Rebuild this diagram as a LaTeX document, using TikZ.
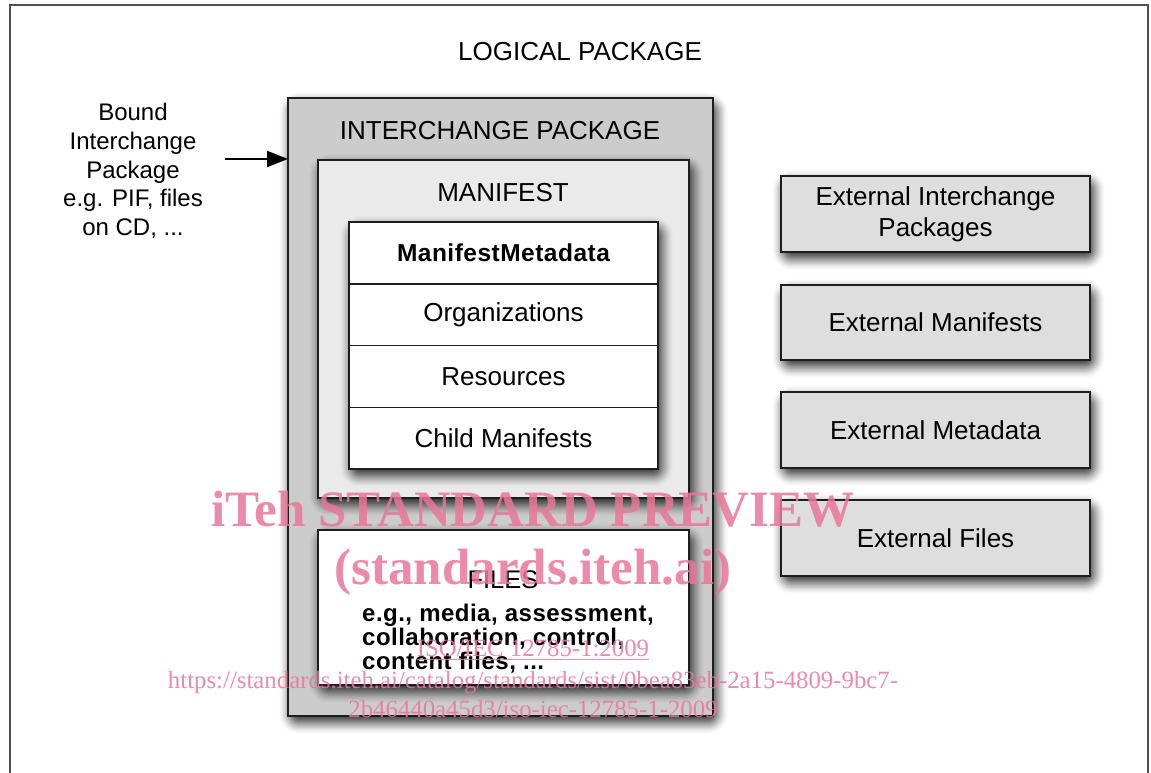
\documentclass[tikz,border=0pt]{standalone}
\usepackage{fontspec}
\setmainfont{Liberation Sans}
\newfontfamily\wmfont{Liberation Serif}
\usetikzlibrary{arrows.meta,fit}

\definecolor{frame}{RGB}{80,80,80}
\definecolor{edge}{RGB}{30,30,30}
\definecolor{pkgfill}{RGB}{204,204,204}
\definecolor{manfill}{RGB}{234,234,234}
\definecolor{extfill}{RGB}{222,222,222}
\definecolor{wmpink}{RGB}{233,118,154}

\newcommand{\fs}[2]{\fontsize{#1}{#2}\selectfont}

% soft drop shadow: stacked translucent rectangles, offset right and down,
% the outer layers fainter than the inner ones
\newcommand{\castshadow}[2]{%
  \foreach \k in {0,...,20}{%
    \pgfmathsetmacro{\layeralpha}{0.13-0.006*\k}%
    \fill[black, fill opacity=\layeralpha, rounded corners=\k pt]
      ([shift={(11-\k,2-\k)}]#1) rectangle ([shift={(\k-5,\k-14)}]#2);
  }%
}

\tikzset{
  boxbase/.style={draw=edge, line width=2pt, inner sep=0pt, outer sep=0pt},
  pkgbox/.style={boxbase, fill=pkgfill},
  manbox/.style={boxbase, fill=manfill},
  stackbox/.style={boxbase, fill=white, line width=2.4pt},
  rowbox/.style={draw=edge, line width=1.4pt, fill=white, inner sep=0pt,
      minimum width=309pt, minimum height=61.75pt, text=black,
      font=\fs{26}{30}},
  filebox/.style={boxbase, fill=white},
  extbox/.style={boxbase, fill=extfill, align=center, font=\fs{26}{31}},
  title/.style={font=\fs{26}{30}, inner sep=0pt},
  note/.style={font=\fs{24}{28.7}, align=center, inner sep=0pt},
  wmbig/.style={font=\wmfont\bfseries\fs{51}{55}, text=wmpink, opacity=0.85, inner sep=0pt, anchor=base},
  wmsmall/.style={font=\wmfont\fs{24.8}{27}, text=wmpink, opacity=0.85, inner sep=0pt, anchor=base},
  feed/.style={line width=2pt, -{Triangle[length=21pt,width=16pt]}},
}

\begin{document}
\begin{tikzpicture}[x=1pt,y=1pt]
  \useasboundingbox (0,0) rectangle (1151,773);
  \fill[white] (0,0) rectangle (1151,773);

  % corners of the boxes
  \coordinate (ipSW) at (288,57);    \coordinate (ipNE) at (713,675);
  \coordinate (manSW) at (318,275);  \coordinate (manNE) at (689,613);
  \coordinate (stSW) at (349,304);   \coordinate (stNE) at (658,551);
  \coordinate (fiSW) at (318,88);    \coordinate (fiNE) at (689,243);
  \coordinate (e1SW) at (781,521);   \coordinate (e1NE) at (1090,597);
  \coordinate (e2SW) at (781,413);   \coordinate (e2NE) at (1090,488);
  \coordinate (e3SW) at (781,305);   \coordinate (e3NE) at (1090,381);
  \coordinate (e4SW) at (781,197);   \coordinate (e4NE) at (1090,273);

  % outer frame of the logical package (open at the bottom)
  \draw[frame, line width=2pt] (10,-2) -- (10,768) -- (1148,768) -- (1148,-2);
  \node[title] (logical) at (580,721) {LOGICAL PACKAGE};

  % interchange package with its manifest and files
  \castshadow{ipSW}{ipNE}
  \node[pkgbox, fit=(ipSW)(ipNE)] (ip) {};
  \node[title] (iptitle) at (500,642) {INTERCHANGE PACKAGE};

  \castshadow{manSW}{manNE}
  \node[manbox, fit=(manSW)(manNE)] (man) {};
  \node[title] (mantitle) at (503,580) {MANIFEST};

  \castshadow{stSW}{stNE}
  \node[stackbox, fit=(stSW)(stNE)] (stack) {};
  \node[rowbox, font=\bfseries\addfontfeature{LetterSpace=2}\fs{24.5}{28}] (meta) at (503.5,519.875) {ManifestMetadata};
  \node[rowbox] (orgs) at (503.5,458.125) {Organizations};
  \node[rowbox] (res) at (503.5,396.375) {Resources};
  \node[rowbox] (child) at (503.5,334.625) {Child Manifests};
  \draw[edge, line width=2.4pt] (stack.south west) rectangle (stack.north east);

  \castshadow{fiSW}{fiNE}
  \node[filebox, fit=(fiSW)(fiNE)] (files) {};
  \node[title, font=\fs{25.5}{30}] (filestitle) at (503,193) {FILES};
  \node[font=\bfseries\addfontfeature{LetterSpace=2}\fs{24}{24}, align=left, anchor=north west, inner sep=0pt]
    (filesnote) at (362,169) {e.g., media, assessment,\\collaboration, control,\\content files, ...};

  % bound package pointing into the interchange package
  \node[note] (bound) at (133,602)
    {Bound\\Interchange\\Package\\e.g. PIF, files\\on CD, ...};
  \coordinate (feedstart) at (225,614);
  \draw[feed] (feedstart) -- (feedstart -| ip.west);

  % external resources
  \castshadow{e1SW}{e1NE}
  \node[extbox, fit=(e1SW)(e1NE)] (extip) {};
  \node[extbox, draw=none, fill=none] (extiplabel) at (extip.center) {External Interchange\\Packages};
  \castshadow{e2SW}{e2NE}
  \node[extbox, fit=(e2SW)(e2NE)] (extman) {};
  \node[extbox, draw=none, fill=none] (extmanlabel) at (extman.center) {External Manifests};
  \castshadow{e3SW}{e3NE}
  \node[extbox, fit=(e3SW)(e3NE)] (extmeta) {};
  \node[extbox, draw=none, fill=none] (extmetalabel) at (extmeta.center) {External Metadata};
  \castshadow{e4SW}{e4NE}
  \node[extbox, fit=(e4SW)(e4NE)] (extfiles) {};
  \node[extbox, draw=none, fill=none] (extfileslabel) at (extfiles.center) {External Files};

  % watermark
  \node[wmbig] (wm1) at (533,246) {iTeh STANDARD PREVIEW};
  \node[wmbig] (wm2) at (533,188) {(standards.iteh.ai)};
  \node[wmsmall] (wm3) at (533,116) {\underline{ISO/IEC 12785-1:2009}};
  \node[wmsmall] (wm4) at (533,84) {https://standards.iteh.ai/catalog/standards/sist/0bea83eb-2a15-4809-9bc7-};
  \node[wmsmall] (wm5) at (533,55) {2b46440a45d3/iso-iec-12785-1-2009};
\end{tikzpicture}
\end{document}
